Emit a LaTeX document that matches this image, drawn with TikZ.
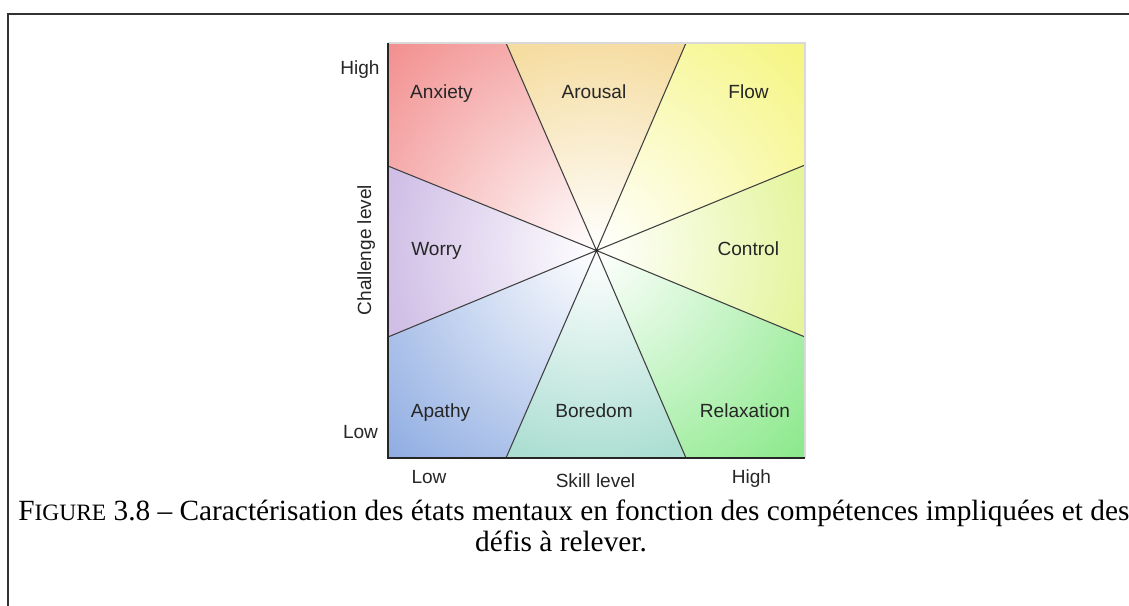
\documentclass[tikz,border=0pt]{standalone}
\usepackage{fontspec}
\setmainfont{Liberation Serif}
\setsansfont{Liberation Sans}

\definecolor{anxietycol}{RGB}{242,140,140}
\definecolor{arousalcol}{RGB}{245,220,160}
\definecolor{flowcol}{RGB}{245,245,125}
\definecolor{controlcol}{RGB}{228,245,158}
\definecolor{relaxcol}{RGB}{135,232,135}
\definecolor{boredomcol}{RGB}{172,222,210}
\definecolor{apathycol}{RGB}{140,170,225}
\definecolor{worrycol}{RGB}{208,190,230}

\begin{document}
\begin{tikzpicture}[x=0.75pt,y=-0.75pt]
	\tikzstyle{state}=[font=\sffamily\fontsize{14.3}{16}\selectfont, text=black!85, anchor=base, inner sep=0pt]
	\tikzstyle{divider}=[draw=black!75, line width=0.8pt]
	\tikzstyle{caption}=[font=\fontsize{22}{26}\selectfont, anchor=base, inner sep=0pt]

	\useasboundingbox (0,0) rectangle (1129,606);
	\draw[black!80, line width=0.8pt] (8,606) -- (8,14) -- (1129,14);

	\coordinate (c) at (596.5,250.5);
	\coordinate (tl) at (388,43);
	\coordinate (tr) at (805,43);
	\coordinate (br) at (805,458);
	\coordinate (bl) at (388,458);
	\coordinate (t1) at (506,43);
	\coordinate (t2) at (686,43);
	\coordinate (r1) at (805,165);
	\coordinate (r2) at (805,337);
	\coordinate (b2) at (686,458);
	\coordinate (b1) at (506,458);
	\coordinate (l2) at (388,337);
	\coordinate (l1) at (388,166);

	\begin{scope}
		\clip (c) -- (l1) -- (tl) -- (t1) -- cycle;
		\fill[anxietycol] (tl) rectangle (br);
		\shade[inner color=white, outer color=anxietycol] (c) circle (300);
	\end{scope}
	\begin{scope}
		\clip (c) -- (t1) -- (t2) -- cycle;
		\fill[arousalcol] (tl) rectangle (br);
		\shade[inner color=white, outer color=arousalcol] (c) circle (215);
	\end{scope}
	\begin{scope}
		\clip (c) -- (t2) -- (tr) -- (r1) -- cycle;
		\fill[flowcol] (tl) rectangle (br);
		\shade[inner color=white, outer color=flowcol] (c) circle (300);
	\end{scope}
	\begin{scope}
		\clip (c) -- (r1) -- (r2) -- cycle;
		\fill[controlcol] (tl) rectangle (br);
		\shade[inner color=white, outer color=controlcol] (c) circle (215);
	\end{scope}
	\begin{scope}
		\clip (c) -- (r2) -- (br) -- (b2) -- cycle;
		\fill[relaxcol] (tl) rectangle (br);
		\shade[inner color=white, outer color=relaxcol] (c) circle (300);
	\end{scope}
	\begin{scope}
		\clip (c) -- (b2) -- (b1) -- cycle;
		\fill[boredomcol] (tl) rectangle (br);
		\shade[inner color=white, outer color=boredomcol] (c) circle (215);
	\end{scope}
	\begin{scope}
		\clip (c) -- (b1) -- (bl) -- (l2) -- cycle;
		\fill[apathycol] (tl) rectangle (br);
		\shade[inner color=white, outer color=apathycol] (c) circle (300);
	\end{scope}
	\begin{scope}
		\clip (c) -- (l2) -- (l1) -- cycle;
		\fill[worrycol] (tl) rectangle (br);
		\shade[inner color=white, outer color=worrycol] (c) circle (215);
	\end{scope}

	\draw[divider] (c) -- (t1);
	\draw[divider] (c) -- (t2);
	\draw[divider] (c) -- (r1);
	\draw[divider] (c) -- (r2);
	\draw[divider] (c) -- (b2);
	\draw[divider] (c) -- (b1);
	\draw[divider] (c) -- (l2);
	\draw[divider] (c) -- (l1);
	\fill[black!85] (c) circle (1.8);

	\draw[black!15, line width=0.8pt] (tl) -- (tr) -- (br);
	\draw[black!85, line width=1.5pt] (tl) -- (bl) -- (br);

	\node[state] (anxiety) at (441.5,99) {Anxiety};
	\node[state] (arousal) at (594,99) {Arousal};
	\node[state] (flow) at (748.5,99) {Flow};
	\node[state] (worry) at (436.5,256) {Worry};
	\node[state] (control) at (748.3,256) {Control};
	\node[state] (apathy) at (440.5,417) {Apathy};
	\node[state] (boredom) at (594,417) {Boredom};
	\node[state] (relax) at (745,417) {Relaxation};

	\node[state] (yhigh) at (360,75) {High};
	\node[state] (ylow) at (360.5,438) {Low};
	\node[state, rotate=90] (ylabel) at (371,250) {Challenge level};
	\node[state] (xlow) at (429,483) {Low};
	\node[state] (xlabel) at (595.5,487) {Skill level};
	\node[state] (xhigh) at (751.5,483) {High};

	\node[caption, anchor=base west] (cap1) at (18,520) {F{\fontsize{17.6}{26}\selectfont IGURE} 3.8 -- Caractérisation des états mentaux en fonction des compétences impliquées et des};
	\node[caption] (cap2) at (561,551) {défis à relever.};
\end{tikzpicture}
\end{document}
